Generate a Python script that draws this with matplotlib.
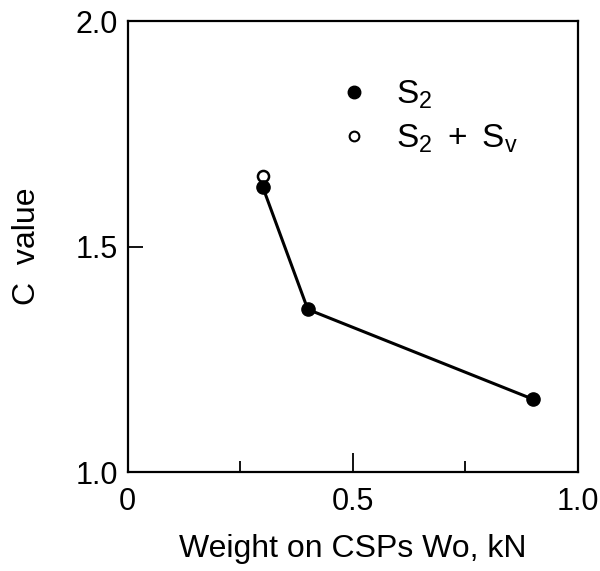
import matplotlib.pyplot as plt
from matplotlib.lines import Line2D

plt.rcParams['font.family'] = ['Liberation Sans', 'DejaVu Sans']
plt.rcParams['mathtext.fontset'] = 'custom'
plt.rcParams['mathtext.rm'] = 'Liberation Sans'
plt.rcParams['mathtext.it'] = 'Liberation Sans'

# datos
peso = [0.3, 0.4, 0.9]
c_s2 = [1.632, 1.361, 1.162]
peso_sv = [0.3]
c_s2_sv = [1.656]

fig = plt.figure(figsize=(6.0, 5.71), dpi=100)
ax = fig.add_axes([0.213, 0.173, 0.75, 0.79])

# linea y puntos S2
ax.plot(peso, c_s2, color='black', lw=2.2, marker='o', ms=9.5,
        mfc='black', mec='black', zorder=3)
# punto S2 + Sv
ax.plot(peso_sv, c_s2_sv, ls='none', marker='o', ms=8,
        mfc='white', mec='black', mew=1.8, zorder=2)

ax.set_xlim(0, 1.0)
ax.set_ylim(1.0, 2.0)
ax.set_xticks([0, 0.5, 1.0])
ax.set_xticklabels(['0', '0.5', '1.0'])
ax.set_xticks([0.25, 0.75], minor=True)
ax.set_yticks([1.0, 1.5, 2.0])
ax.set_yticklabels(['1.0', '1.5', '2.0'])

ax.tick_params(axis='x', which='major', direction='in', length=13.5,
               width=1.3, labelsize=22, pad=11)
ax.tick_params(axis='x', which='minor', direction='in', length=8, width=1.3)
ax.tick_params(axis='y', which='major', direction='in', length=11,
               width=1.3, labelsize=22, pad=7)

for s in ax.spines.values():
    s.set_linewidth(1.6)

ax.set_xlabel('Weight on CSPs Wo, kN', fontsize=23, labelpad=12)
ax.set_ylabel('C  value', fontsize=23, labelpad=24)

# leyenda
handles = [
    Line2D([], [], ls='none', marker='o', ms=9, mfc='black', mec='black'),
    Line2D([], [], ls='none', marker='o', ms=7, mfc='white', mec='black', mew=1.5),
]
labels = [r'$\mathregular{S_2}$', r'$\mathregular{S_2\ +\ S_v}$']
ax.legend(handles, labels, loc='upper left', bbox_to_anchor=(0.466, 0.872),
          frameon=False, fontsize=24, handlelength=1.0, handletextpad=0.75,
          labelspacing=0.35, borderpad=0, borderaxespad=0)

plt.savefig('out.png', dpi=100)
